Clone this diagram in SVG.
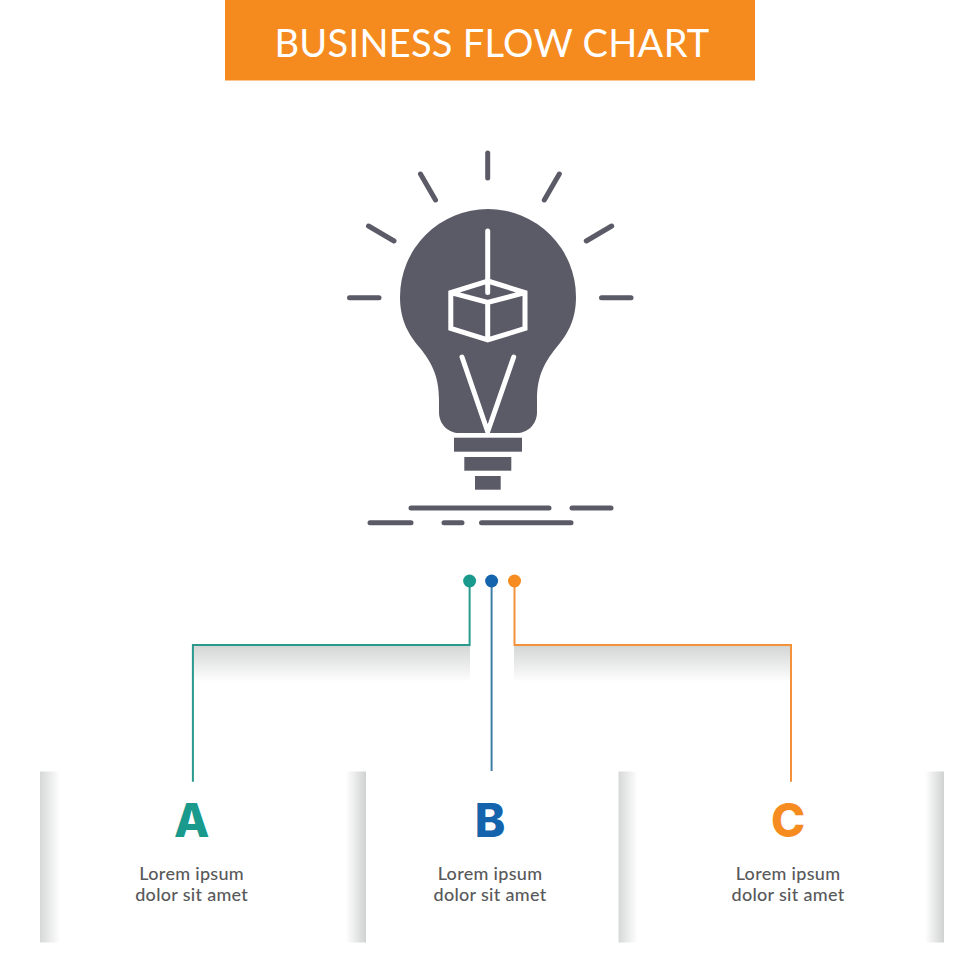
<svg xmlns="http://www.w3.org/2000/svg" width="980" height="980" viewBox="0 0 980 980">
<style>
.ray{fill:none;stroke:#5b5a67;stroke-width:5;stroke-linecap:round}
.cut{fill:none;stroke:#fff;stroke-width:5;stroke-linejoin:miter}
.bar{fill:#5b5a67}
.wire{fill:none;stroke-width:2}
.cap{font-family:"Inter","Liberation Sans",sans-serif;font-weight:800;font-size:46px;text-anchor:middle}
.body{font-family:"Lato","Liberation Sans",sans-serif;font-weight:500;font-size:18px;letter-spacing:.3px;fill:#58595b;text-anchor:middle}
</style>
<defs>
<linearGradient id="down" x1="0" y1="0" x2="0" y2="1"><stop offset="0" stop-color="#d3d4d4"/><stop offset="1" stop-color="#fff"/></linearGradient>
<linearGradient id="fromLeft" x1="0" y1="0" x2="1" y2="0"><stop offset="0" stop-color="#d6d7d7"/><stop offset="1" stop-color="#fff"/></linearGradient>
<linearGradient id="fromRight" x1="1" y1="0" x2="0" y2="0"><stop offset="0" stop-color="#d0d1d1"/><stop offset="1" stop-color="#fff"/></linearGradient>
</defs>
<rect width="980" height="980" fill="#fff"/>
<g id="header">
<rect x="225" y="0" width="530" height="80.500" fill="#f58b1f"/>
<text x="492" y="57" font-family="Lato,'Liberation Sans',sans-serif" font-size="38" letter-spacing=".3" fill="#fff" text-anchor="middle">BUSINESS FLOW CHART</text>
</g>
<g id="bulb">
<line class="ray" x1="487.700" y1="153" x2="487.700" y2="178"/>
<line class="ray" x1="420.500" y1="174" x2="435.500" y2="200"/>
<line class="ray" x1="559.300" y1="174" x2="544.300" y2="200"/>
<line class="ray" x1="368.500" y1="226" x2="394" y2="241"/>
<line class="ray" x1="611.700" y1="226" x2="586.300" y2="241"/>
<line class="ray" x1="349.500" y1="297.700" x2="379" y2="297.700"/>
<line class="ray" x1="601.500" y1="297.700" x2="631" y2="297.700"/>
<path class="bar" d="M488 209A88 88 0 0 1 576 297C576 322 566 336 556 348C545 362 537 375 537 400L537 412C537 425 527 433 517 433L459 433C449 433 439 425 439 412L439 400C439 375 431 362 420 348C410 336 400 322 400 297A88 88 0 0 1 488 209Z"/>
<path class="cut" d="M487.700 281L525 292.700V328.500L487.700 340L450.800 328.500V292.700ZM450.800 292.700L487.700 302.300L525 292.700M487.700 302.300V340"/>
<line x1="487.700" y1="231" x2="487.700" y2="292.500" stroke="#fff" stroke-width="5" stroke-linecap="round"/>
<path d="M462 357L487.700 431.700L513.700 357" fill="none" stroke="#fff" stroke-width="5" stroke-linecap="round"/>
<rect class="bar" x="454" y="437.700" width="68" height="14"/>
<rect class="bar" x="464.300" y="457" width="47" height="13.700"/>
<rect class="bar" x="475" y="476" width="25.700" height="13.700"/>
<line class="ray" x1="411" y1="508" x2="549" y2="508"/>
<line class="ray" x1="572" y1="508" x2="611" y2="508"/>
<line class="ray" x1="370" y1="522.700" x2="411" y2="522.700"/>
<line class="ray" x1="444" y1="522.700" x2="462" y2="522.700"/>
<line class="ray" x1="481.500" y1="522.700" x2="571" y2="522.700"/>
</g>
<g id="connectors">
<rect x="193" y="645" width="277" height="37" fill="url(#down)"/>
<rect x="514" y="645" width="277" height="37" fill="url(#down)"/>
<path class="wire" stroke="#2a9a8e" d="M192.900 781.700V645H469.600V581"/>
<path class="wire" stroke="#3f7fa6" d="M491.600 771V581"/>
<path class="wire" stroke="#f3923a" d="M791 781.700V645H514.500V581"/>
<circle cx="469.600" cy="581" r="6.500" fill="#1a9a8c"/>
<circle cx="491.600" cy="581" r="6.500" fill="#1464ad"/>
<circle cx="514.500" cy="581" r="6.500" fill="#f68b1f"/>
</g>
<g id="node-a">
<rect x="40" y="771.500" width="20" height="171" fill="url(#fromLeft)"/>
<rect x="346" y="771.500" width="20" height="171" fill="url(#fromRight)"/>
<text class="cap" x="191.700" y="837.300" fill="#1a9a8c">A</text>
<text class="body" x="191.700" y="880">Lorem ipsum</text>
<text class="body" x="191.700" y="900.500">dolor sit amet</text>
</g>
<g id="node-b">
<text class="cap" x="490" y="837.300" fill="#1464ad">B</text>
<text class="body" x="490" y="880">Lorem ipsum</text>
<text class="body" x="490" y="900.500">dolor sit amet</text>
</g>
<g id="node-c">
<rect x="618.500" y="771.500" width="19" height="171" fill="url(#fromLeft)"/>
<rect x="925" y="771.500" width="19" height="171" fill="url(#fromRight)"/>
<text class="cap" x="788" y="837.300" fill="#f68b1f">C</text>
<text class="body" x="788" y="880">Lorem ipsum</text>
<text class="body" x="788" y="900.500">dolor sit amet</text>
</g>
</svg>
